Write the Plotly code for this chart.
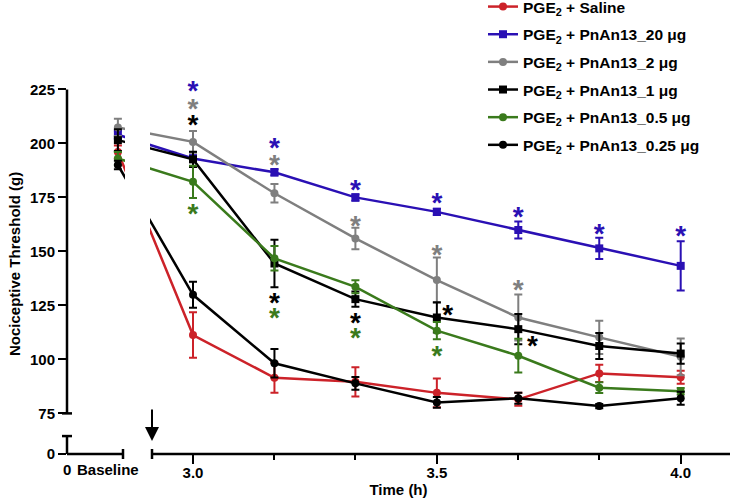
import plotly.graph_objects as go

# ---- data ----------------------------------------------------------------- #
TIME = [3.0, 3.167, 3.333, 3.5, 3.667, 3.833, 4.0]
BASELINE_POS = 2.846  # where the "Baseline" measurement sits on the time axis

SERIES = ["Saline", "PnAn13_20 μg", "PnAn13_2 μg", "PnAn13_1 μg",
          "PnAn13_0.5 μg", "PnAn13_0.25 μg"]

# first value = baseline, then one value per TIME
saline = [196, 111.3, 91.5, 89.6, 84.5, 81.5, 93.5, 91.7]
saline_err = [3, 10.5, 7, 6.8, 6.7, 3, 4, 3]
pn20 = [204, 193, 186.6, 175, 168.3, 159.9, 151.4, 143.3]
pn20_err = [2, 1.5, 1.5, 1.5, 1.5, 3.9, 4.9, 11.4]
pn2 = [207.4, 200.7, 176.9, 156, 136.7, 119.4, 110.2, 101.2]
pn2_err = [4, 5, 4.3, 5, 10.5, 10.6, 7.7, 8.5]
pn1 = [201.5, 192.6, 144.4, 127.9, 119.4, 114, 106.2, 102.7]
pn1_err = [5, 3.5, 11, 3.5, 7, 7, 6, 4.7]
pn05 = [193, 182.2, 146.8, 133.6, 113.3, 101.7, 86.9, 85.3]
pn05_err = [3, 7.5, 5.7, 3, 4, 7.8, 2.5, 1.5]
pn025 = [190, 129.9, 98.2, 88.9, 80.1, 82, 78.4, 82]
pn025_err = [2, 6, 6.6, 3, 2.5, 2.5, 1, 3]

VALUES = [saline, pn20, pn2, pn1, pn05, pn025]
ERRORS = [saline_err, pn20_err, pn2_err, pn1_err, pn05_err, pn025_err]

# significance asterisks (x, y of the star)
star_20_x = [3.0, 3.167, 3.333, 3.5, 3.667, 3.833, 4.0]
star_20_y = [226.5, 200.1, 180.7, 174.5, 167.9, 160.2, 159]
star_2_x = [3.0, 3.167, 3.333, 3.5, 3.667]
star_2_y = [218, 192.3, 164, 150.6, 134]
star_1_x = [3.0, 3.167, 3.333, 3.522, 3.696]
star_1_y = [210.7, 128.4, 118.7, 122.5, 108.2]
star_05_x = [3.0, 3.167, 3.333, 3.5]
star_05_y = [169.6, 121.4, 112, 103.5]

COLORS = ["#cc2229", "#2a10b4", "#7f7f7f", "#000000", "#3a7a1c", "#000000"]
SYMBOLS = ["circle", "square", "circle", "square", "circle", "circle"]

FONT = "Arial, Liberation Sans, sans-serif"

# ---- geometry of the broken axes ------------------------------------------ #
W, H = 733, 503
ML, MT = 67, 57
PW, PH = 663, 397
MR, MB = W - ML - PW, H - MT - PH
PX_PER_H = 487.7
X0 = 3.0 - (193 - ML) / PX_PER_H
X1 = X0 + PW / PX_PER_H
Y_ZERO = 56.2          # where "0" is drawn on the compressed y axis
Y1 = 240
Y_BREAK = 64.5          # top of the short "0" segment
STAR_SHIFT = 3          # text anchor sits below the asterisk glyph


def tx(px):
    """screen column -> x data coordinate"""
    return X0 + (px - ML) / PX_PER_H


def py(px):
    """screen row -> paper y"""
    return (MT + PH - px) / PH


fig = go.Figure()

for name, vals, errs, col, sym in zip(SERIES, VALUES, ERRORS, COLORS, SYMBOLS):
    fig.add_trace(go.Scatter(
        x=[BASELINE_POS] + TIME, y=vals, name=f"PGE<sub>2</sub> + {name}",
        mode="lines+markers", legendgroup=name,
        line=dict(color=col, width=2.5),
        marker=dict(color=col, symbol=sym, size=8),
        error_y=dict(type="data", array=errs, color=col, thickness=2, width=4),
    ))

for xs, ys, col in [(star_20_x, star_20_y, COLORS[1]), (star_2_x, star_2_y, COLORS[2]),
                    (star_1_x, star_1_y, COLORS[3]), (star_05_x, star_05_y, COLORS[4])]:
    fig.add_trace(go.Scatter(
        x=xs, y=[v - STAR_SHIFT for v in ys], mode="text", text=["*"] * len(xs),
        textfont=dict(color=col, size=28, family=FONT, weight="bold"),
        showlegend=False, hoverinfo="skip", cliponaxis=False,
    ))

shapes = [
    # white mask over the x break
    dict(type="rect", xref="x", yref="paper", x0=tx(125), x1=tx(150), y0=0.2, y1=1,
         fillcolor="white", line_width=0, layer="above"),
    # y axis (two pieces)
    dict(type="line", xref="paper", yref="y", x0=0, x1=0, y0=75, y1=225),
    dict(type="line", xref="paper", yref="y", x0=0, x1=0, y0=Y_ZERO, y1=Y_BREAK),
    # x axis (two pieces)
    dict(type="line", xref="x", yref="paper", x0=tx(60), x1=tx(123), y0=0, y1=0),
    dict(type="line", xref="x", yref="paper", x0=tx(152), x1=X1, y0=0, y1=0),
    # break caps
    dict(type="line", xref="paper", yref="y", x0=-5 / PW, x1=5 / PW, y0=75, y1=75),
    dict(type="line", xref="paper", yref="y", x0=-5 / PW, x1=5 / PW, y0=Y_BREAK, y1=Y_BREAK),
    dict(type="line", xref="x", yref="paper", x0=tx(123), x1=tx(123), y0=-5 / PH, y1=5 / PH),
    dict(type="line", xref="x", yref="paper", x0=tx(152), x1=tx(152), y0=-5 / PH, y1=5 / PH),
]
for s in shapes[1:]:
    s["line"] = dict(color="black", width=2.5)
    s["layer"] = "above"

bold = dict(family=FONT, size=15, color="black", weight="bold")
annotations = [
    dict(text="0", x=tx(67), y=py(469), xref="x", yref="paper",
         xanchor="center", yanchor="middle", showarrow=False, font=bold),
    dict(text="Baseline", x=tx(107.5), y=py(469), xref="x", yref="paper",
         xanchor="center", yanchor="middle", showarrow=False, font=bold),
    dict(text="Nociceptive Threshold (g)", textangle=-90, x=(14 - ML) / PW, y=py(264),
         xref="paper", yref="paper", xanchor="center", yanchor="middle",
         showarrow=False, font=bold),
    # injection arrow
    dict(x=tx(152), y=py(441), xref="x", yref="paper", ax=0, ay=-33, text="",
         showarrow=True, arrowhead=2, arrowsize=1.4, arrowwidth=2, arrowcolor="black"),
]

fig.update_layout(
    width=W, height=H,
    margin=dict(l=ML, r=MR, t=MT, b=MB, autoexpand=False),
    paper_bgcolor="white", plot_bgcolor="white",
    font=bold,
    shapes=shapes, annotations=annotations,
    xaxis=dict(range=[X0, X1], showgrid=False, zeroline=False, showline=False,
               tickvals=[3.0, 3.5, 4.0], ticktext=["3.0", "3.5", "4.0"],
               ticks="outside", ticklen=9, tickwidth=2, tickcolor="black",
               tickfont=bold, automargin=False, ticklabelstandoff=-4,
               minor=dict(tickvals=[3.167, 3.333, 3.667, 3.833], ticks="outside",
                          ticklen=5, tickwidth=2, tickcolor="black"),
               title=dict(text="Time (h)", font=bold, standoff=0)),
    yaxis=dict(range=[Y_ZERO, Y1], showgrid=False, zeroline=False, showline=False,
               tickvals=[Y_ZERO, 75, 100, 125, 150, 175, 200, 225],
               ticktext=["0", "75", "100", "125", "150", "175", "200", "225"],
               ticks="outside", ticklen=8, tickwidth=2, tickcolor="black",
               tickfont=bold, automargin=False),
    legend=dict(x=(483 - ML) / PW, y=py(-10), xanchor="left", yanchor="top",
                font=dict(family=FONT, size=15.5, color="black", weight="bold"),
                traceorder="grouped", tracegroupgap=4.5, bgcolor="rgba(0,0,0,0)"),
    showlegend=True,
)

# drop the default page margin so the figure sits at the window's corner
fig.write_html("out.html", config={"displayModeBar": False},
               post_script="document.body.style.margin = '0';")
